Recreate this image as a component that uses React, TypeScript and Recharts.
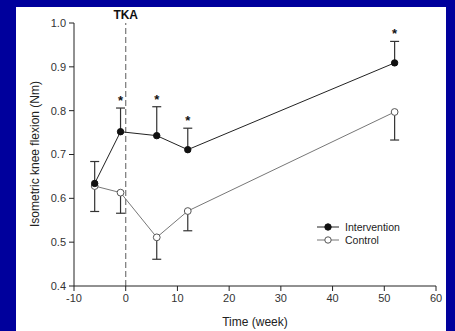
import { LineChart, Line, XAxis, YAxis, ReferenceLine, ReferenceDot } from 'recharts';

const weeks = [-6, -1, 6, 12, 52];
const intervention = [0.634, 0.752, 0.743, 0.711, 0.909];
const interventionSd = [0.05, 0.054, 0.066, 0.049, 0.049];
const control = [0.628, 0.613, 0.511, 0.571, 0.797];
const controlSd = [0.058, 0.047, 0.05, 0.045, 0.064];
const significant = [false, true, true, true, true];

const xTicks = [-10, 0, 10, 20, 30, 40, 50, 60];
const yTicks = [0.4, 0.5, 0.6, 0.7, 0.8, 0.9, 1.0];

const data = weeks.map((w, i) => ({
  week: w,
  intervention: intervention[i],
  control: control[i],
}));

// one small two-point series per error bar: mean -> mean + sd (intervention up, control down)
const stems = [
  ...weeks.map((w, i) => [
    { week: w, v: intervention[i] },
    { week: w, v: intervention[i] + interventionSd[i] },
  ]),
  ...weeks.map((w, i) => [
    { week: w, v: control[i] },
    { week: w, v: control[i] - controlSd[i] },
  ]),
];

const font = '"Liberation Sans", Arial, sans-serif';
const tickStyle = { fontSize: 11, fill: '#333', fontFamily: font };

const capDot = (props: any) => {
  const { cx, cy, index } = props;
  if (index !== 1) return <g key={`c${index}`} />;
  return <line key={`c${index}`} x1={cx - 4.5} y1={cy} x2={cx + 4.5} y2={cy} stroke="#333" strokeWidth={1.2} />;
};

function LegendBox() {
  const rows = [
    { name: 'Intervention', fill: '#111', stroke: '#111', line: '#222' },
    { name: 'Control', fill: '#fff', stroke: '#555', line: '#777' },
  ];
  return (
    <div style={{ position: 'absolute', left: 317, top: 220, fontFamily: font, fontSize: 10.5, color: '#222' }}>
      {rows.map((r) => (
        <div key={r.name} style={{ display: 'flex', alignItems: 'center', height: 13 }}>
          <svg width={24} height={10}>
            <line x1={0} y1={5} x2={22} y2={5} stroke={r.line} strokeWidth={1} />
            <circle cx={11} cy={5} r={3.2} fill={r.fill} stroke={r.stroke} />
          </svg>
          <span style={{ marginLeft: 4 }}>{r.name}</span>
        </div>
      ))}
    </div>
  );
}

export default function App() {
  return (
    <div style={{ position: 'absolute', left: 0, top: 0, width: 455, height: 331, background: '#00009c', overflow: 'hidden' }}>
      <div style={{ position: 'absolute', left: 16, top: 7, width: 430, height: 324, background: '#fff' }} />
      <div style={{ position: 'absolute', left: 0, top: 0 }}>
        <LineChart width={455} height={331} data={data} margin={{ top: 23, right: 19, bottom: 15, left: 24 }}>
          <XAxis
            dataKey="week"
            type="number"
            domain={[-10, 60]}
            ticks={xTicks}
            tick={tickStyle}
            tickSize={5}
            tickMargin={3}
            height={30}
            stroke="#222"
            allowDuplicatedCategory={false}
            label={{
              content: () => (
                <text x={255} y={326} textAnchor="middle" style={{ fontSize: 12, fill: '#222', fontFamily: font }}>
                  Time (week)
                </text>
              ),
            }}
          />
          <YAxis
            type="number"
            domain={[0.4, 1.0]}
            ticks={yTicks}
            tick={tickStyle}
            tickFormatter={(v: number) => v.toFixed(1)}
            tickSize={5}
            tickMargin={3}
            width={50}
            stroke="#222"
            label={{
              content: () => (
                <text
                  x={39}
                  y={154}
                  transform="rotate(-90, 39, 154)"
                  textAnchor="middle"
                  style={{ fontSize: 12, fill: '#222', fontFamily: font }}
                >
                  Isometric knee flexion (Nm)
                </text>
              ),
            }}
          />
          <ReferenceLine
            x={0}
            stroke="#777"
            strokeDasharray="6 3"
            strokeWidth={1.2}
            label={{ value: 'TKA', position: 'top', offset: 4, style: { fontSize: 12, fontWeight: 'bold', fill: '#111', fontFamily: font } }}
          />
          {stems.map((s, k) => (
            <Line
              key={`stem${k}`}
              data={s}
              dataKey="v"
              stroke="#333"
              strokeWidth={1.2}
              dot={capDot}
              activeDot={false}
              legendType="none"
              isAnimationActive={false}
            />
          ))}
          <Line
            dataKey="control"
            stroke="#777"
            strokeWidth={1}
            isAnimationActive={false}
            dot={{ r: 3.4, fill: '#fff', stroke: '#555', strokeWidth: 1 }}
          />
          <Line
            dataKey="intervention"
            stroke="#222"
            strokeWidth={1}
            isAnimationActive={false}
            dot={{ r: 3.2, fill: '#111', stroke: '#111', strokeWidth: 1 }}
          />
          {weeks.map((w, i) =>
            significant[i] ? (
              <ReferenceDot
                key={w}
                x={w}
                y={intervention[i] + interventionSd[i]}
                r={0}
                fill="none"
                stroke="none"
                label={{ value: '*', position: 'top', offset: 3, style: { fontSize: 13, fontWeight: 'bold', fill: '#111', fontFamily: font } }}
              />
            ) : null
          )}
        </LineChart>
      </div>
      <LegendBox />
    </div>
  );
}
